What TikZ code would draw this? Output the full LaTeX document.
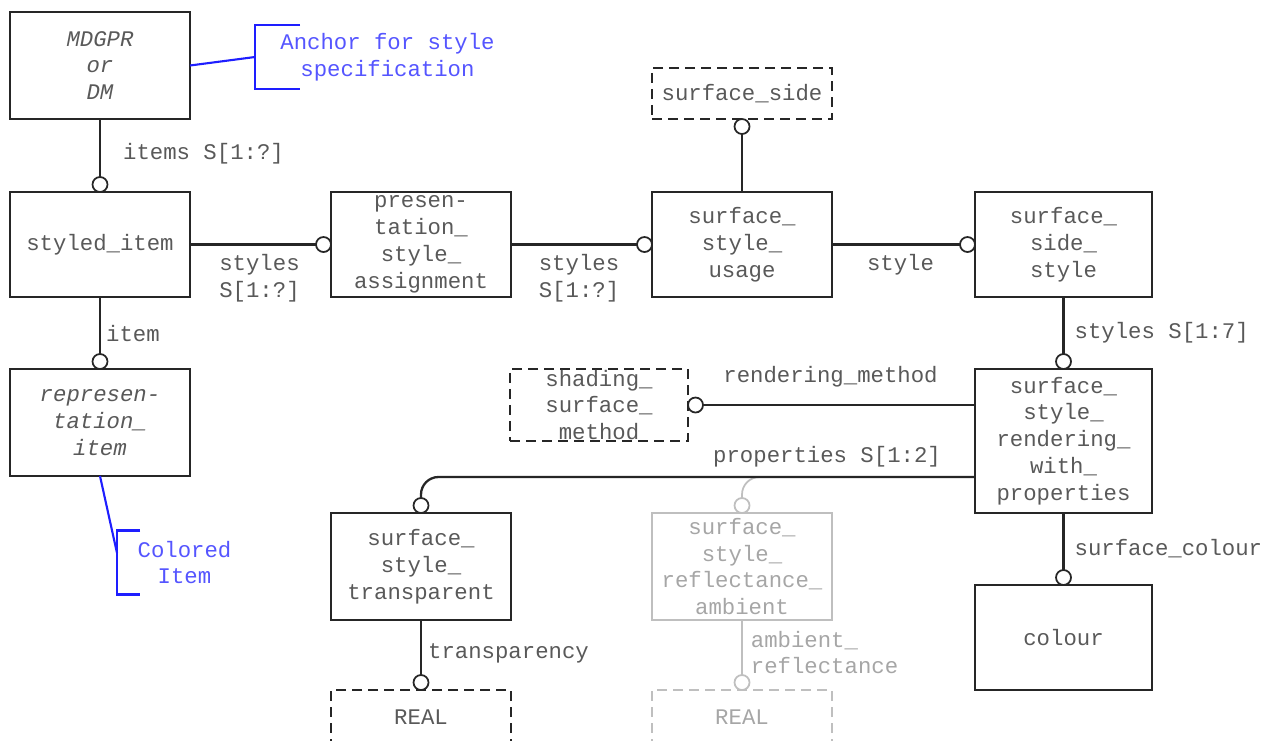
\documentclass[tikz,border=0pt]{standalone}
\usepackage{fontspec}
\usetikzlibrary{positioning,calc}
\newfontfamily\monofam{Liberation Mono}
\newcommand{\erfont}{\monofam\fontsize{12.7}{15.3}\selectfont}
\definecolor{notelinecol}{RGB}{30,30,255}
\definecolor{notetextcol}{RGB}{85,85,255}
\tikzset{
  ent/.style args={#1,#2}{
  draw=black!85,
  line width=1.2pt,
  outer sep=0pt,
  inner sep=0pt,
  minimum width=#1 cm,
  minimum height=#2 cm,
  align=center,
  text=black!65,
  font=\erfont
  },
  entbox/.style={ent={3.6,2.1}},
  typebox/.style={entbox,dash pattern=on 0.2cm off 0.12cm},
  faded/.style={draw=black!25,text=black!35},
  ring/.style={circle,draw=black!85,fill=white,line width=1pt,inner sep=0pt,minimum size=0.3cm,outer sep=0pt},
  rel/.style={line width=1.3pt,draw=black!85},
  lbl/.style={font=\erfont,text=black!65,inner sep=0pt,align=left},
  notetxt/.style={font=\erfont,text=notetextcol,align=center,inner sep=0pt},
  noteline/.style={draw=notelinecol,line width=1.2pt}
}
\begin{document}
\begin{tikzpicture}
  \clip (0,0) rectangle (25.46,-14.8);

  % entities
  \node [entbox,minimum height=2.14cm,font=\erfont\itshape] (mdgpr) at (2.0,-1.31) {MDGPR\\or\\DM};
  \node [entbox,below=1.46cm of mdgpr] (styled) {styled\_item};
  \node [entbox,minimum height=2.14cm,font=\erfont\itshape,below=1.44cm of styled] (repr) {represen-\\tation\_\\item};
  \node [entbox,right=2.82cm of styled] (psa) {presen-\\tation\_\\style\_\\assignment};
  \node [entbox,right=2.82cm of psa] (ssu) {surface\_\\style\_\\usage};
  \node [entbox,minimum width=3.54cm,right=2.86cm of ssu] (sss) {surface\_\\side\_\\style};
  \node [typebox,minimum height=1.02cm,above=1.46cm of ssu] (side) {surface\_side};
  \node [entbox,minimum width=3.54cm,minimum height=2.88cm,below=1.44cm of sss] (ssrwp) {surface\_\\style\_\\rendering\_\\with\_\\properties};
  \node [entbox,minimum width=3.54cm,below=1.44cm of ssrwp] (colour) {colour};
  \node [typebox,minimum width=3.56cm,minimum height=1.44cm,left=5.74cm of ssrwp.north west,anchor=north east] (shading) {shading\_\\surface\_\\method};
  \node [entbox,minimum height=2.14cm,below=4.32cm of psa] (sst) {surface\_\\style\_\\transparent};
  \node [entbox,faded,minimum height=2.14cm,below=4.32cm of ssu] (sra) {surface\_\\style\_\\reflectance\_\\ambient};
  \node [typebox,minimum height=1.1cm,below=1.4cm of sst] (real1) {REAL};
  \node [typebox,faded,minimum height=1.1cm,below=1.4cm of sra] (real2) {REAL};

  % rings
  \node [ring,above=0pt of styled] (r1) {};
  \node [ring,left=0pt of psa] (r2) {};
  \node [ring,left=0pt of ssu] (r3) {};
  \node [ring,left=0pt of sss] (r4) {};
  \node [ring,below=0pt of side] (r5) {};
  \node [ring,above=0pt of ssrwp] (r6) {};
  \node [ring,right=0pt of shading] (r7) {};
  \node [ring,above=0pt of sst] (r8) {};
  \node [ring,faded,above=0pt of sra] (r9) {};
  \node [ring,above=0pt of real1] (r10) {};
  \node [ring,faded,above=0pt of real2] (r11) {};
  \node [ring,above=0pt of colour] (r12) {};
  \node [ring,above=0pt of repr] (r13) {};

  % relations
  \draw [rel] (mdgpr) -- node[lbl,anchor=west,xshift=0.44cm,yshift=-0.12cm]{items S[1:?]} (r1);
  \draw [rel] (styled) -- node[lbl,xshift=0.13cm,yshift=-0.67cm]{styles\\S[1:?]} (r2);
  \draw [rel] (psa) -- node[lbl,xshift=0.1cm,yshift=-0.67cm]{styles\\S[1:?]} (r3);
  \draw [rel] (ssu) -- node[lbl,xshift=0.09cm,yshift=-0.4cm]{style} (r4);
  \draw [rel] (ssu) -- (r5);
  \draw [rel] (sss) -- node[lbl,anchor=west,xshift=0.2cm,yshift=-0.15cm]{styles S[1:7]} (r6);
  \draw [rel] (r7) -- node[lbl,xshift=-0.17cm,yshift=0.56cm]{rendering\_method} (r7 -| ssrwp.west);
  \coordinate (pw) at ([yshift=-0.72cm]ssrwp.west);
  \draw [rel,faded,line width=1pt,rounded corners=0.35cm] (r9) |- ([xshift=0.5cm]r9 |- pw);
  \draw [rel,rounded corners=0.35cm] (pw) -| node[lbl,pos=0,anchor=east,xshift=-0.66cm,yshift=0.4cm]{properties S[1:2]} (r8);
  \draw [rel] (sst) -- node[lbl,anchor=west,xshift=0.12cm,yshift=-0.11cm]{transparency} (r10);
  \draw [rel,faded,line width=1pt] (sra) -- node[lbl,text=black!35,anchor=west,xshift=0.16cm,yshift=-0.1cm]{ambient\_\\reflectance} (r11);
  \draw [rel] (ssrwp) -- node[lbl,anchor=west,xshift=0.2cm,yshift=-0.14cm]{surface\_colour} (r12);
  \draw [rel] (styled) -- node[lbl,anchor=west,xshift=0.1cm,yshift=-0.16cm]{item} (r13);

  % notes
  \node [notetxt] (anch) at (7.75,-1.14) {Anchor for style\\specification};
  \coordinate (ab) at ([xshift=-2.65cm]anch.center);
  \draw [noteline] (ab) ++(0.9,0.64) -- ++(-0.9,0) -- ++(0,-1.28) -- ++(0.9,0);
  \draw [noteline] (mdgpr.east) -- (ab);
  \node [notetxt] (colnote) at (3.69,-11.25) {Colored\\Item};
  \coordinate (cb) at ([xshift=-1.35cm]colnote.center);
  \draw [noteline] (cb) ++(0.46,0.64) -- ++(-0.46,0) -- ++(0,-1.28) -- ++(0.46,0);
  \draw [noteline] (repr.south) -- ([yshift=0.19cm]cb);
\end{tikzpicture}
\end{document}
